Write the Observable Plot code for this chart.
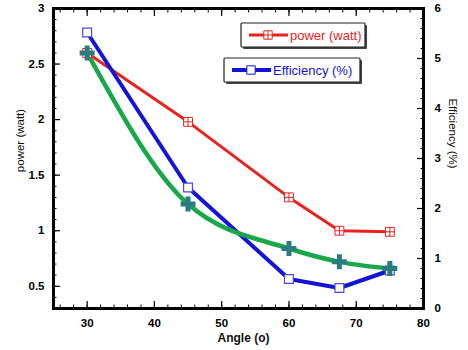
<!DOCTYPE html>
<html><head><meta charset="utf-8">
<script src="https://cdn.jsdelivr.net/npm/d3@7"></script>
<script src="https://cdn.jsdelivr.net/npm/@observablehq/plot@0.6"></script>
<style>
body{margin:0;background:#fff;}
svg{display:block;}
</style>
</head><body><div id="chart"></div>
<script>
// ---- data ----
const angles = [30, 45, 60, 67.5, 75];
const power = [2.6, 1.98, 1.3, 1.0, 0.99];          // left axis (watt)
const efficiency = [5.52, 2.42, 0.59, 0.41, 0.76];  // right axis (%)
const fitted = [2.6, 1.24, 0.84, 0.72, 0.66];       // green curve (left axis)
const xTicks = [30, 40, 50, 60, 70, 80];
const powerTicks = [0.5, 1, 1.5, 2, 2.5, 3];
const effTicks = [0, 1, 2, 3, 4, 5, 6];
const xDomain = [25, 80];
const powerDomain = [0.3, 3];
const effDomain = [0, 6];
const seriesNames = ["power (watt)", "Efficiency (%)"];
const axisLabels = {x: "Angle (o)", left: "power (watt)", right: "Efficiency (%)"};

const RED = "#e8231f", BLUE = "#1414d8", GREEN = "#17a84a", TEAL = "#2b7c80";
const effToPower = e => powerDomain[0] + (e - effDomain[0]) / (effDomain[1] - effDomain[0]) * (powerDomain[1] - powerDomain[0]);
const powerToEff = p => effDomain[0] + (p - powerDomain[0]) / (powerDomain[1] - powerDomain[0]) * (effDomain[1] - effDomain[0]);

const rows = angles.map((a, i) => ({angle: a, power: power[i], eff: effToPower(efficiency[i]), fit: fitted[i]}));

const xMinor = d3.range(13, 41).map(i => i * 2);
const powerMinor = d3.range(3, 31).map(i => i / 10);
const effMinor = d3.range(0, 31).map(i => effToPower(i / 5));
const effMajor = effTicks.map(effToPower);

const squareCross = {
  draw(ctx, size) {
    const r = Math.sqrt(size) / 2;
    ctx.moveTo(-r, -r); ctx.lineTo(r, -r); ctx.lineTo(r, r); ctx.lineTo(-r, r); ctx.closePath();
    ctx.moveTo(0, -r); ctx.lineTo(0, r);
    ctx.moveTo(-r, 0); ctx.lineTo(r, 0);
  }
};

const font = "'Liberation Sans', Arial, sans-serif";

const plot = Plot.plot({
  width: 468,
  height: 350,
  marginLeft: 53,
  marginRight: 45,
  marginTop: 8,
  marginBottom: 42,
  style: {fontFamily: font, background: "#fff", overflow: "visible"},
  x: {domain: xDomain, label: null},
  y: {domain: powerDomain, label: null},
  marks: [
    // inward ticks
    Plot.axisX(xTicks, {anchor: "bottom", tickSize: 7, dy: -7, text: null, label: null, strokeWidth: 1.2}),
    Plot.axisX(xMinor, {anchor: "bottom", tickSize: 3.5, dy: -3.5, text: null, label: null}),
    Plot.axisX(xTicks, {anchor: "top", tickSize: 7, dy: 7, text: null, label: null, strokeWidth: 1.2}),
    Plot.axisX(xMinor, {anchor: "top", tickSize: 3.5, dy: 3.5, text: null, label: null}),
    Plot.axisY(powerTicks, {anchor: "left", tickSize: 7, dx: 7, text: null, label: null, strokeWidth: 1.2}),
    Plot.axisY(powerMinor, {anchor: "left", tickSize: 3.5, dx: 3.5, text: null, label: null}),
    Plot.axisY(effMajor, {anchor: "right", tickSize: 7, dx: -7, text: null, label: null, strokeWidth: 1.2}),
    Plot.axisY(effMinor, {anchor: "right", tickSize: 3.5, dx: -3.5, text: null, label: null}),
    // tick labels
    Plot.axisX(xTicks, {anchor: "bottom", tickSize: 0, tickPadding: 10, label: null, fontWeight: "bold", fontSize: 11.5,
      tickFormat: d => String(d)}),
    Plot.axisY(powerTicks, {anchor: "left", tickSize: 0, tickPadding: 9, label: null, fontWeight: "bold", fontSize: 11.5,
      tickFormat: d => String(d)}),
    Plot.axisY(effMajor, {anchor: "right", tickSize: 0, tickPadding: 11, label: null, fontWeight: "bold", fontSize: 11.5,
      tickFormat: v => String(Math.round(powerToEff(v)))}),
    // axis titles
    Plot.text([axisLabels.left], {frameAnchor: "left", textAnchor: "middle", lineAnchor: "middle", rotate: -90, dx: -33, dy: -18, fontSize: 11.5, fill: "#111"}),
    Plot.text([axisLabels.right], {frameAnchor: "right", textAnchor: "middle", lineAnchor: "middle", rotate: 90, dx: 29, dy: -25, fontSize: 11.5, fill: "#111"}),
    Plot.text([axisLabels.x], {frameAnchor: "bottom", textAnchor: "middle", lineAnchor: "middle", dx: 5, dy: 30, fontSize: 12, fontWeight: "bold", fill: "#111"}),
    // series
    Plot.line(rows, {x: "angle", y: "power", stroke: RED, strokeWidth: 3}),
    Plot.line(rows, {x: "angle", y: "eff", stroke: BLUE, strokeWidth: 4}),
    Plot.line(rows, {x: "angle", y: "fit", stroke: GREEN, strokeWidth: 4.5, curve: "monotone-x"}),
    Plot.dot(rows, {x: "angle", y: "power", symbol: squareCross, r: 5, stroke: RED, fill: "white", strokeWidth: 1}),
    Plot.dot(rows, {x: "angle", y: "eff", symbol: "square", r: 5, stroke: "#4a4ae0", fill: "white", strokeWidth: 1.2}),
    Plot.dot(rows, {x: "angle", y: "fit", symbol: "cross", r: 6.3, fill: TEAL, stroke: "none"}),
    Plot.frame({stroke: "black", strokeWidth: 3})
  ]
});

// legend boxes (decoration) drawn inside the plot area
const svg = d3.select(plot);
const legends = [
  {name: seriesNames[0], color: RED, sym: squareCross, lw: 3, x: 241, y: 23, w: 124, h: 24},
  {name: seriesNames[1], color: BLUE, sym: d3.symbolSquare, lw: 4, x: 224, y: 58, w: 136, h: 24}
];
for (const L of legends) {
  const g = svg.append("g");
  g.append("rect").attr("x", L.x + 2).attr("y", L.y + 2).attr("width", L.w).attr("height", L.h).attr("fill", "#444").attr("rx", 1);
  g.append("rect").attr("x", L.x).attr("y", L.y).attr("width", L.w).attr("height", L.h).attr("fill", "white").attr("stroke", "#222").attr("stroke-width", 1.2).attr("rx", 1);
  const cy = L.y + L.h / 2;
  g.append("line").attr("x1", L.x + 8).attr("x2", L.x + 47).attr("y1", cy).attr("y2", cy).attr("stroke", L.color).attr("stroke-width", L.lw);
  g.append("path").attr("d", d3.symbol(L.sym, 70)()).attr("transform", `translate(${L.x + 27},${cy})`)
    .attr("fill", "white").attr("stroke", L.color).attr("stroke-width", 1);
  g.append("text").attr("x", L.x + 49).attr("y", cy).attr("dy", "0.35em").attr("fill", L.color)
    .attr("text-anchor", "start").attr("font-size", 13).attr("font-family", font).text(L.name);
}

document.getElementById("chart").appendChild(plot);
</script>
</body></html>
